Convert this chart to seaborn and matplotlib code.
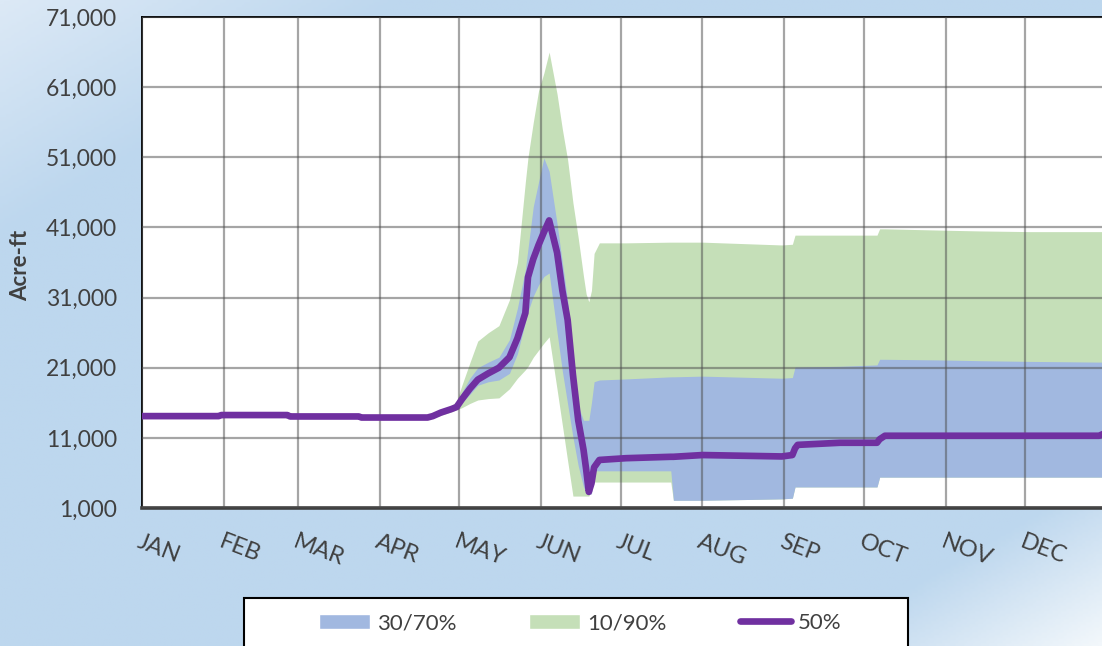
import numpy as np
import seaborn as sns
import matplotlib.pyplot as plt
from matplotlib.patches import Patch, Rectangle
from matplotlib.lines import Line2D
from matplotlib.colors import LinearSegmentedColormap

# day of year and exceedance bands (acre-ft)
days = [0, 29, 30, 55, 56, 82, 83, 108, 110, 113, 117, 119, 121, 124, 127, 131,
        135, 139, 142, 145, 146, 148, 150, 152, 154, 157, 159, 161, 163, 165,
        167, 168, 169, 170, 171, 173, 183, 200, 201, 212, 242, 246, 247, 248,
        264, 278, 279, 281, 304, 317, 336, 362, 365]
p10 = [14100, 14100, 14250, 14250, 14050, 14050, 13900, 13900, 13900, 14200,
       14700, 15000, 15300, 15900, 16400, 16600, 16700, 18000, 19500, 20700,
       21200, 22500, 23500, 24500, 25400, 17900, 12800, 7700, 2700, 2700,
       2700, 2700, 2700, 3500, 4700, 4700, 4700, 4700, 2100, 2100, 2300, 2400,
       4000, 4000, 4000, 4000, 5400, 5400, 5400, 5400, 5400, 5400, 5400]
p30 = [14100, 14100, 14250, 14250, 14050, 14050, 13900, 13900, 14000, 14400,
       14900, 15200, 16000, 17200, 18500, 19000, 19250, 20200, 23000, 27500,
       29000, 31200, 32800, 34000, 34500, 26000, 20500, 15800, 11100, 7000,
       4000, 3200, 3000, 3000, 6300, 6300, 6300, 6300, 2100, 2100, 2300, 2400,
       4000, 4000, 4000, 4000, 5400, 5400, 5400, 5400, 5400, 5400, 5400]
p50 = [14100, 14100, 14250, 14250, 14050, 14050, 13900, 13900, 14100, 14600,
       15100, 15400, 16500, 18000, 19300, 20200, 21000, 22500, 25200, 28800,
       33900, 36500, 38500, 40300, 42000, 37400, 32000, 27800, 20000, 13500,
       9300, 6500, 3300, 4500, 6800, 7850, 8100, 8300, 8300, 8550, 8350, 8550,
       9500, 10000, 10300, 10300, 10800, 11300, 11300, 11300, 11300, 11300, 11800]
p70 = [14100, 14100, 14250, 14250, 14050, 14050, 13900, 13900, 14200, 14800,
       15400, 16000, 17500, 19500, 21000, 21800, 22500, 25000, 29500, 35000,
       38000, 44000, 47500, 50900, 49000, 41500, 36000, 30500, 23000, 15500,
       13500, 13500, 13500, 16000, 19000, 19250, 19400, 19700, 19700, 19800,
       19500, 19600, 21100, 21100, 21200, 21400, 22200, 22200, 22100, 22000,
       21900, 21800, 21800]
p90 = [14100, 14100, 14250, 14250, 14050, 14050, 13900, 13900, 14300, 15000,
       15600, 16200, 18500, 21700, 24800, 26000, 27000, 30700, 36000, 47500,
       51000, 56000, 60500, 63000, 66000, 60000, 55000, 50600, 44500, 39500,
       34000, 31500, 30400, 32000, 37300, 38800, 38800, 38900, 38900, 38900,
       38500, 38600, 39900, 39900, 39900, 39900, 40800, 40800, 40600, 40500,
       40400, 40400, 40400]

month_starts = [0, 31, 59, 90, 120, 151, 181, 212, 243, 273, 304, 334]
month_labels = ['JAN', 'FEB', 'MAR', 'APR', 'MAY', 'JUN',
                'JUL', 'AUG', 'SEP', 'OCT', 'NOV', 'DEC']
y_ticks = [1000, 11000, 21000, 31000, 41000, 51000, 61000, 71000]

blue = '#A1B8E0'
green = '#C5DFB8'
purple = '#7030A0'
text_col = '#404040'

sns.set_style('white')
plt.rcParams['font.family'] = ['Lato', 'DejaVu Sans']

W, H = 1102, 646
fig = plt.figure(figsize=(W / 100, H / 100), dpi=100)

# light blue gradient backdrop
gx, gy = np.meshgrid(np.linspace(0, 1, 400), np.linspace(0, 1, 240))
cmap = LinearSegmentedColormap.from_list(
    'bg', [(0, '#DCE9F6'), (0.18, '#BDD7EE'), (0.87, '#BDD7EE'), (1, '#F2F7FB')])
bg = fig.add_axes([0, 0, 1, 1], zorder=-10)
bg.imshow((gx + gy) / 2, cmap=cmap, vmin=0, vmax=1, aspect='auto', extent=[0, 1, 0, 1])
bg.axis('off')

ax = fig.add_axes([142 / W, (H - 508) / H, 965 / W, 491 / H])
ax.set_facecolor('white')

ax.fill_between(days, p10, p90, color=green, lw=0, zorder=1)
ax.fill_between(days, p30, p70, color=blue, lw=0, zorder=1.1)
sns.lineplot(x=days, y=p50, ax=ax, color=purple, lw=4.8, zorder=3,
             solid_capstyle='round', solid_joinstyle='round')

ax.set_xlim(0, 365)
ax.set_ylim(1000, 71000)
ax.set_axisbelow(False)
ax.grid(True, color='#4D4D4D', alpha=0.5, lw=1.6)

ax.set_xticks(month_starts)
ax.set_xticklabels(month_labels, rotation=-21, ha='left', va='top',
                   rotation_mode='anchor')
ax.set_yticks(y_ticks)
ax.set_yticklabels([f'{v:,}' for v in y_ticks])
ax.tick_params(axis='x', length=0, pad=17, labelsize=17, labelcolor=text_col)
ax.tick_params(axis='y', length=0, pad=18, labelsize=16.5, labelcolor=text_col)

ax.set_xlabel('')
ax.set_ylabel('Acre-ft', fontweight='bold', fontsize=16, color=text_col)
ax.yaxis.set_label_coords(-0.115, 0.495)

for side in ['left', 'top', 'right']:
    ax.spines[side].set_color('black')
    ax.spines[side].set_linewidth(1.3)
ax.spines['bottom'].set_color(text_col)
ax.spines['bottom'].set_linewidth(2.6)

# legend box at the bottom, cut off by the figure edge
fig.add_artist(Rectangle((244 / W, -0.05), (908 - 244) / W, 48 / H + 0.05,
                         transform=fig.transFigure, facecolor='white',
                         edgecolor='black', lw=1.5, zorder=4))
handles = [Patch(facecolor=blue, label='30/70%'),
           Patch(facecolor=green, label='10/90%'),
           Line2D([], [], color=purple, lw=4.8, solid_capstyle='round', label='50%')]
fig.legend(handles=handles, loc='center', bbox_to_anchor=(580 / W, 1 - 623 / H),
           ncol=3, frameon=False, fontsize=16, labelcolor=text_col,
           handlelength=2.3, handleheight=0.68, handletextpad=0.3,
           columnspacing=3.3)

fig.savefig('out.png', dpi=100)
